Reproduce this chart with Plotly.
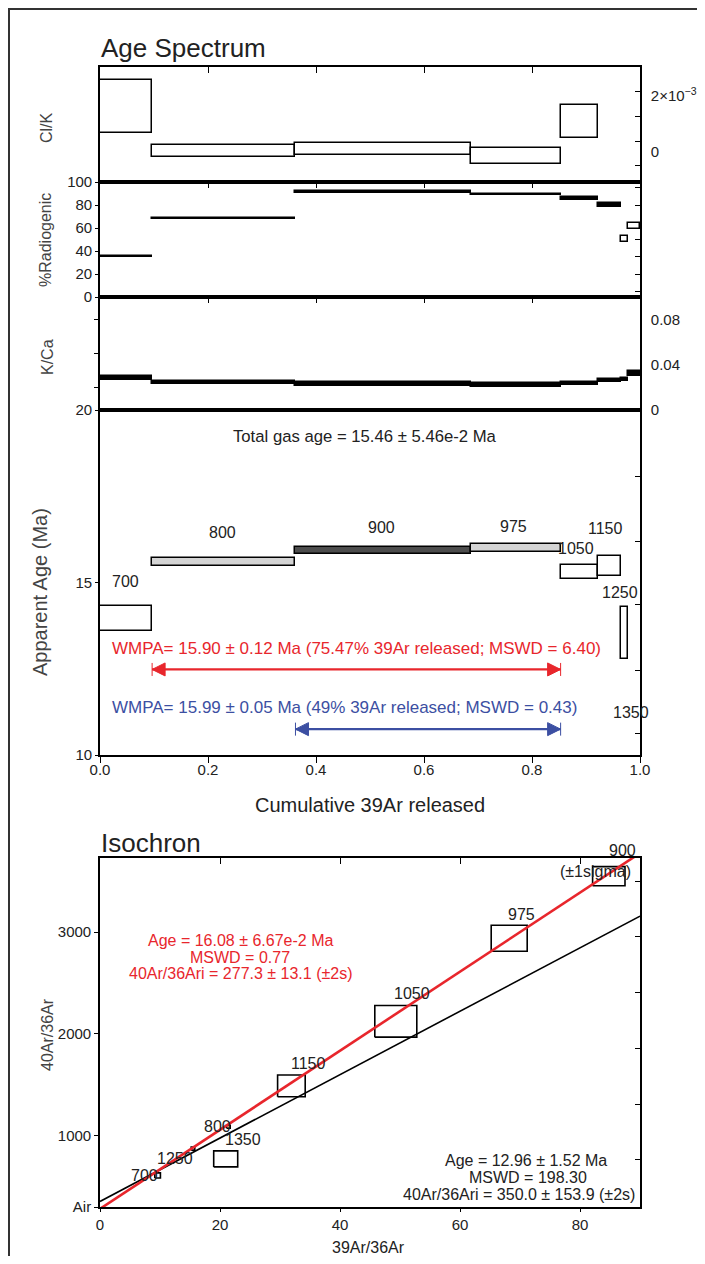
import plotly.graph_objects as go

# ---------------- data ----------------
steps = ['700', '800', '900', '975', '1050', '1150', '1250', '1350']
cum39 = [0.0965, 0.362, 0.687, 0.853, 0.922, 0.965, 0.978, 1.0]   # cumulative 39Ar released (step end)

clk = [1.625e-3, 0.036e-3, 0.107e-3, -0.143e-3, 1.089e-3, None, None, None]
clk_err = [0.946e-3, 0.214e-3, 0.214e-3, 0.286e-3, 0.589e-3, None, None, None]

rad = [35.2, 68.3, 91.3, 89.2, 85.5, 79.7, 50.3, 61.6]
rad_err = [0.8, 0.8, 0.8, 0.8, 1.2, 1.7, 2.6, 2.9]

kca = [0.0283, 0.0243, 0.0230, 0.0220, 0.0235, 0.0260, 0.0270, 0.0320]
kca_err = [0.0017, 0.0015, 0.0019, 0.0020, 0.0015, 0.0015, 0.0012, 0.0023]

age = [13.95, 15.60, 15.94, 16.00, 15.30, 15.48, 13.54, None]
age_err = [0.37, 0.11, 0.10, 0.11, 0.21, 0.29, 0.76, None]

wmpa_red = dict(first=1, last=3, age=12.48)    # steps 800-975
wmpa_blue = dict(first=2, last=3, age=10.75)   # steps 900-975

iso_steps = ['700', '800', '900', '975', '1050', '1150', '1250', '1350']
iso_x = [9.6, 21.4, 84.8, 68.2, 49.3, 31.9, 15.5, 20.95]
iso_xerr = [0.47, 0.3, 2.7, 3.0, 3.5, 2.3, 0.3, 2.0]
iso_y = [606, 1085, 3551, 2940, 2123, 1488, 870, 769]
iso_yerr = [25, 15, 94, 128, 156, 107, 15, 79]

red_fit = dict(intercept=277.3, slope=38.9)
black_fit = dict(intercept=350.0, slope=31.2)

# ---------------- style ----------------
FONT = 'Liberation Sans, Arial, sans-serif'
TXT = '#222222'
RED = '#e8262c'
BLUE = '#3c4fa2'
age_fill = ['white', '#d4d4d4', '#4d4d4d', '#d4d4d4', 'white', 'white', 'white', 'white']
rad_fill = ['black'] * 6 + ['white'] * 2

OFF = 8                      # page offset of the figure (body margin)
W, H = 705 - OFF, 1264 - 2 * OFF
L = 100 - OFF
R = W - (640 - OFF)
PW = W - L - R


def pxx(px):
    return (px - 100) / PW


def pxy(py):
    return 1 - (py - OFF) / H


starts = [0.0] + cum39[:-1]
mids = [(a + b) / 2 for a, b in zip(starts, cum39)]
widths = [b - a for a, b in zip(starts, cum39)]


def bar(vals, errs, xa, ya, fills):
    base, hgt = [], []
    for v, e in zip(vals, errs):
        if v is None:
            base.append(None)
            hgt.append(None)
        else:
            base.append(v - e)
            hgt.append(2 * e)
    return go.Bar(x=mids, y=hgt, base=base, width=widths, xaxis=xa, yaxis=ya,
                  marker=dict(color=fills, line=dict(color='black', width=1.5)),
                  showlegend=False, hoverinfo='skip')


fig = go.Figure()
fig.add_trace(bar(clk, clk_err, 'x', 'y', 'white'))
fig.add_trace(bar(rad, rad_err, 'x2', 'y2', rad_fill))
fig.add_trace(bar(kca, kca_err, 'x3', 'y3', 'black'))
fig.add_trace(bar(age, age_err, 'x4', 'y4', age_fill))

# WMPA double arrows
for w, col in ((wmpa_red, RED), (wmpa_blue, BLUE)):
    xs = [starts[w['first']], cum39[w['last']]]
    fig.add_trace(go.Scatter(x=xs, y=[w['age'], w['age']], mode='lines+markers', xaxis='x4', yaxis='y4',
                             line=dict(color=col, width=2.2),
                             marker=dict(symbol=['arrow-bar-left', 'arrow-bar-right'], size=13, color=col,
                                         line=dict(color=col, width=1)),
                             showlegend=False, hoverinfo='skip'))

# isochron boxes
bx, by = [], []
for x, ex, y, ey in zip(iso_x, iso_xerr, iso_y, iso_yerr):
    bx += [x - ex, x + ex, x + ex, x - ex, x - ex, None]
    by += [y - ey, y - ey, y + ey, y + ey, y - ey, None]
fig.add_trace(go.Scatter(x=bx, y=by, mode='lines', xaxis='x5', yaxis='y5',
                         line=dict(color='black', width=1.6), showlegend=False, hoverinfo='skip'))

fx = [0, 90]
fig.add_trace(go.Scatter(x=fx, y=[black_fit['intercept'] + black_fit['slope'] * v for v in fx],
                         mode='lines', xaxis='x5', yaxis='y5', line=dict(color='black', width=1.6),
                         showlegend=False, hoverinfo='skip'))
fig.add_trace(go.Scatter(x=fx, y=[red_fit['intercept'] + red_fit['slope'] * v for v in fx],
                         mode='lines', xaxis='x5', yaxis='y5', line=dict(color=RED, width=2.6),
                         showlegend=False, hoverinfo='skip'))

# dummy traces for overlay tick axes
for xa, ya in (('x', 'y6'), ('x2', 'y7'), ('x3', 'y8'), ('x4', 'y9'), ('x5', 'y10'), ('x6', 'y5')):
    fig.add_trace(go.Scatter(x=[None], y=[None], xaxis=xa, yaxis=ya, showlegend=False, hoverinfo='skip'))

dom = {
    'clk': [pxy(182), pxy(67)],
    'rad': [pxy(297), pxy(182)],
    'kca': [pxy(410), pxy(297)],
    'age': [pxy(755), pxy(410)],
    'iso': [pxy(1207), pxy(858)],
}

base_ax = dict(showgrid=False, zeroline=False, showline=True, linecolor='black', linewidth=1.6,
               mirror=True, tickcolor='black', tickwidth=1.4, automargin=False,
               tickfont=dict(family=FONT, size=15, color=TXT))

top_x = dict(base_ax, range=[0, 1], side='top', ticks='inside', ticklen=6,
             tickvals=[0.2, 0.4, 0.6, 0.8], showticklabels=False)

ovl = dict(showgrid=False, zeroline=False, showline=False, showticklabels=False, automargin=False,
           tickcolor='black', tickwidth=1.4, ticklen=5)

fig.update_layout(
    width=W, height=H, margin=dict(l=L, r=R, t=0, b=0, autoexpand=False),
    paper_bgcolor='white', plot_bgcolor='white', barmode='overlay', bargap=0,
    showlegend=False, hovermode=False,
    font=dict(family=FONT, size=15, color=TXT),
    xaxis=dict(top_x, anchor='y'),
    yaxis=dict(base_ax, domain=dom['clk'], anchor='x', range=[-1.071e-3, 3.036e-3], side='right',
               tickvals=[0, 2e-3], ticktext=['0', '2×10<sup>−3</sup>'], ticks='', ticklabelstandoff=6),
    xaxis2=dict(top_x, anchor='y2'),
    yaxis2=dict(base_ax, domain=dom['rad'], anchor='x2', range=[0, 100], side='left',
                tickvals=[0, 20, 40, 60, 80, 100], ticks='outside', ticklen=3),
    xaxis3=dict(top_x, anchor='y3'),
    yaxis3=dict(base_ax, domain=dom['kca'], anchor='x3', range=[0, 0.1], side='right',
                tickvals=[0, 0.04, 0.08], ticktext=['0', '0.04', '0.08'], ticks='', ticklabelstandoff=6),
    xaxis4=dict(base_ax, anchor='y4', range=[0, 1], side='bottom', ticks='outside', ticklen=6,
                ticklabelstandoff=-6,
                tickvals=[0, 0.2, 0.4, 0.6, 0.8, 1.0], ticktext=['0.0', '0.2', '0.4', '0.6', '0.8', '1.0']),
    yaxis4=dict(base_ax, domain=dom['age'], anchor='x4', range=[10, 20], side='left',
                tickvals=[10, 15, 20], ticks='outside', ticklen=3),
    xaxis5=dict(base_ax, anchor='y5', range=[0, 90], side='bottom', ticks='outside', ticklen=3,
                tickvals=[0, 20, 40, 60, 80]),
    yaxis5=dict(base_ax, domain=dom['iso'], anchor='x5', range=[295.5, 3730], side='left',
                tickvals=[295.5, 1000, 2000, 3000], ticktext=['Air', '1000', '2000', '3000'],
                ticks='outside', ticklen=4),
    xaxis6=dict(ovl, overlaying='x5', anchor='y5', range=[0, 90], side='top', ticks='inside',
                tickvals=[20, 40, 60, 80], ticklen=6),
    yaxis6=dict(ovl, overlaying='y', anchor='x', range=[-1.071e-3, 3.036e-3], side='right', ticks='inside',
                tickvals=[2.154e-3, 1.261e-3, 0.379e-3, -0.489e-3]),
    yaxis7=dict(ovl, overlaying='y2', anchor='x2', range=[0, 100], side='right', ticks='inside',
                tickvals=[5, 20, 35, 50, 65, 80, 95]),
    yaxis8=dict(ovl, overlaying='y3', anchor='x3', range=[0, 0.1], side='left', ticks='outside',
                tickvals=[0.02, 0.05, 0.08]),
    yaxis9=dict(ovl, overlaying='y4', anchor='x4', range=[10, 20], side='right', ticks='inside',
                tickvals=[18.07, 16.2, 14.35, 12.46, 10.63]),
    yaxis10=dict(ovl, overlaying='y5', anchor='x5', range=[295.5, 3730], side='right', ticks='inside',
                 tickvals=[3503, 2954, 2405, 1852, 1309, 759]),
)

ann = []


def txt(text, px, py, size=16, color=TXT, angle=0, xanchor='center'):
    ann.append(dict(text=text, x=pxx(px), y=pxy(py), xref='paper', yref='paper', showarrow=False,
                    xanchor=xanchor, yanchor='middle', textangle=angle,
                    font=dict(family=FONT, size=size, color=color)))


txt('Age Spectrum', 99, 48, size=26, xanchor='left')
txt('Isochron', 99, 843, size=26, xanchor='left')
txt('Cl/K', 47, 128, size=16, color='#444', angle=-90)
txt('%Radiogenic', 45, 240, size=16, color='#444', angle=-90)
txt('K/Ca', 47, 357, size=16, color='#444', angle=-90)
txt('Apparent Age (Ma)', 40, 592, size=20, color='#444', angle=-90)
txt('Cumulative 39Ar released', 370, 805, size=20)
txt('40Ar/36Ar', 47, 1035, size=16, color='#444', angle=-90)
txt('39Ar/36Ar', 368, 1247, size=16)
txt('Total gas age = 15.46 ± 5.46e-2 Ma', 365, 436, size=16.7)
txt('WMPA= 15.90 ± 0.12 Ma (75.47% 39Ar released; MSWD = 6.40)', 110, 648, size=17, color=RED,
    xanchor='left')
txt('WMPA= 15.99 ± 0.05 Ma (49% 39Ar released; MSWD = 0.43)', 110, 707, size=17, color=BLUE,
    xanchor='left')

for s, px, py in zip(steps, [125, 222, 381, 513, 576, 605, 620, 631], [582, 533, 527, 526, 548, 528, 592, 712]):
    txt(s, px, py)

for s, px, py in zip(iso_steps, [144, 217, 622, 521, 412, 308, 175, 243],
                     [1175, 1126, 850, 914, 993, 1063, 1158, 1139]):
    txt(s, px, py)
txt('(±1sigma)', 595, 871)

txt('Age = 16.08 ± 6.67e-2 Ma', 240, 940, color=RED)
txt('MSWD = 0.77', 240, 957, color=RED)
txt('40Ar/36Ari = 277.3 ± 13.1 (±2s)', 240, 973, color=RED)
txt('Age = 12.96 ± 1.52 Ma', 526, 1160)
txt('MSWD = 198.30', 528, 1177)
txt('40Ar/36Ari = 350.0 ± 153.9 (±2s)', 519, 1194)

fig.update_layout(annotations=ann)

# outer frame: top and left edges
fig.add_shape(type='line', xref='paper', yref='paper', x0=pxx(8), x1=pxx(720), y0=pxy(9), y1=pxy(9),
              line=dict(color='#333', width=2), layer='below')
fig.add_shape(type='line', xref='paper', yref='paper', x0=pxx(9), x1=pxx(9), y0=pxy(1270), y1=pxy(8),
              line=dict(color='#333', width=2), layer='below')

fig.write_html('out.html')
